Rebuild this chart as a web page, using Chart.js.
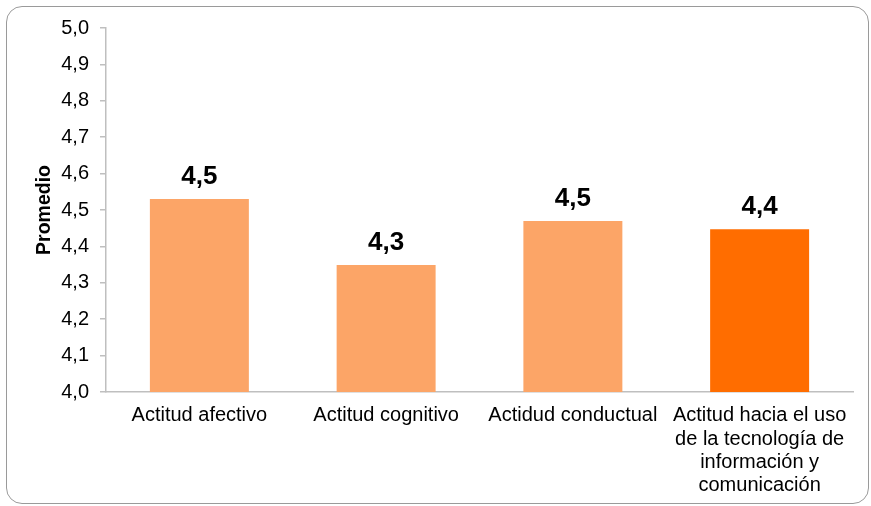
<!DOCTYPE html>
<html>
<head>
<meta charset="utf-8">
<script src="https://cdn.jsdelivr.net/npm/chart.js@4.4.1/dist/chart.umd.min.js"></script>
<style>
  html, body { margin: 0; padding: 0; background: #fff; }
  #wrap { position: relative; width: 871px; height: 506px; }
  #frame { position: absolute; left: 6px; top: 6px; width: 861px; height: 496px;
           border: 1px solid #9a9a9a; border-radius: 16px; pointer-events: none; }
  canvas { position: absolute; left: 0; top: 0; }
</style>
</head>
<body>
<div id="wrap">
  <canvas id="promedioChart" width="871" height="506"></canvas>
  <div id="frame"></div>
</div>
<script>
// datos
const categorias = [
    ['Actitud afectivo'],
    ['Actitud cognitivo'],
    ['Actidud conductual'],
    ['Actitud hacia el uso', 'de la tecnología de', 'información y', 'comunicación']
];
const promedios = [4.53, 4.349, 4.47, 4.447];
const colores = ['#FCA567', '#FCA567', '#FCA567', '#FF6D00'];
const yMin = 4.0, yMax = 5.0, yPaso = 0.1;

const fmt = v => Number(v).toFixed(1).replace('.', ',');
const FONT = '"Liberation Sans", Arial, sans-serif';

// etiquetas encima de las barras
const etiquetas = {
    id: 'etiquetas',
    afterDatasetsDraw(chart){
        const ctx = chart.ctx;
        const meta = chart.getDatasetMeta(0);
        ctx.save();
        ctx.font = 'bold 26px ' + FONT;
        ctx.fillStyle = '#000';
        ctx.textAlign = 'center';
        ctx.textBaseline = 'alphabetic';
        meta.data.forEach(function(bar, i){
            ctx.fillText(fmt(promedios[i]), bar.x, bar.y - 15);
        });
        ctx.restore();
    }
};

document.addEventListener('DOMContentLoaded', function(){
    const ctx = document.getElementById('promedioChart');
    new Chart(ctx, {
        type: 'bar',
        data: {
            labels: categorias,
            datasets: [{
                data: promedios,
                backgroundColor: colores,
                borderWidth: 0,
                barPercentage: 0.53,
                categoryPercentage: 1
            }]
        },
        options: {
            responsive: false,
            animation: false,
            layout: { padding: { top: 28, right: 18, left: 0, bottom: 0 } },
            plugins: { legend: { display: false }, tooltip: { enabled: false } },
            scales: {
                x: {
                    grid: { display: false, drawTicks: false },
                    border: { display: true, color: '#BFBFBF', width: 1.5 },
                    ticks: {
                        color: '#000', padding: 12, maxRotation: 0, autoSkip: false,
                        font: { family: FONT, size: 20, lineHeight: 1.17 }
                    },
                    afterFit: function(scale){ scale.height = 114; }
                },
                y: {
                    min: yMin, max: yMax,
                    grid: { drawOnChartArea: false, drawTicks: true, tickLength: 6, color: '#BFBFBF', lineWidth: 1.5 },
                    border: { display: true, color: '#BFBFBF', width: 1.5 },
                    ticks: {
                        stepSize: yPaso, color: '#000', padding: 11,
                        font: { family: FONT, size: 20 },
                        callback: function(v){ return fmt(v); }
                    },
                    title: {
                        display: true, text: 'Promedio', color: '#000',
                        font: { family: FONT, size: 19.5, weight: 'bold', lineHeight: 1.2 },
                        padding: { top: 33, bottom: 0 }
                    },
                    afterFit: function(scale){ scale.width = 106; }
                }
            }
        },
        plugins: [etiquetas]
    });
});
</script>
</body>
</html>
